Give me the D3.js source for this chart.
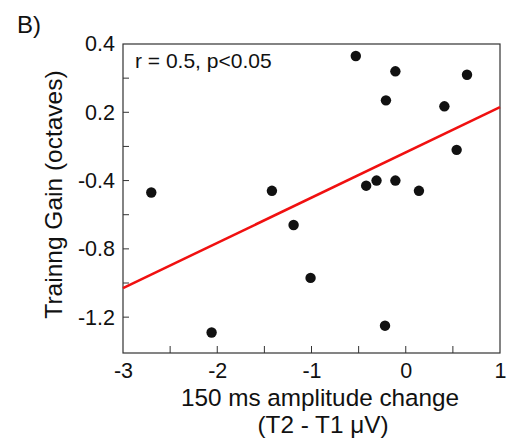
<!DOCTYPE html>
<html><head><meta charset="utf-8">
<script src="https://cdn.jsdelivr.net/npm/d3@7"></script>
<style>body{margin:0;background:#fff}svg{display:block}text{font-family:"Liberation Sans",Arial,sans-serif;fill:#111}</style>
</head><body>
<svg id="c" width="520" height="445"></svg>
<script>
const ampChange = [-0.53,-0.11,0.65,-0.21,0.41,0.54,-2.70,-1.42,-0.42,-0.31,-0.11,0.14,-1.19,-1.01,-2.06,-0.22];
const trainGain = [0.33,0.24,0.22,0.07,0.035,-0.22,-0.47,-0.46,-0.43,-0.40,-0.40,-0.46,-0.66,-0.97,-1.29,-1.25];
const fitX = [-3, 1];
const fitY = [-1.03, 0.03];
const xTickValues = [-3,-2,-1,0,1];
const xTickLabels = ["-3","-2","-1","0","1"];
const xMinorTicks = [-2.5,-2,-1.5,-1,-0.5,0,0.5];
const yTickValues = [0.4,0,-0.4,-0.8,-1.2];
const yTickLabels = ["0.4","0.2","-0.4","-0.8","-1.2"];
const yMinorTicks = [0.2,0,-0.2,-0.4,-0.6,-0.8,-1.0,-1.2];

const svg = d3.select("#c");
const L=123,R=500,T=44,B=353;
const x = d3.scaleLinear().domain([-3,1]).range([L,R]);
const y = d3.scaleLinear().domain([-1.41,0.4]).range([B,T]);

// frame
svg.append("rect").attr("x",L).attr("y",T).attr("width",R-L).attr("height",B-T)
  .attr("fill","none").attr("stroke","#333").attr("stroke-width",1.2);

// x axis
const xa = svg.append("g").attr("transform",`translate(0,${B})`)
  .call(d3.axisBottom(x).tickValues(xTickValues).tickFormat((d,i)=>xTickLabels[i]).tickSize(0).tickPadding(10));
xa.select(".domain").remove();
xa.selectAll("text").attr("font-size",21.5).style("font-family","Liberation Sans, Arial, sans-serif").attr("fill","#111");
svg.append("g").selectAll("line").data(xMinorTicks).join("line")
  .attr("x1",d=>x(d)).attr("x2",d=>x(d)).attr("y1",B).attr("y2",B-7).attr("stroke","#333");

// y axis
const ya = svg.append("g").attr("transform",`translate(${L},0)`)
  .call(d3.axisLeft(y).tickValues(yTickValues).tickFormat((d,i)=>yTickLabels[i]).tickSize(0).tickPadding(8));
ya.select(".domain").remove();
ya.selectAll("text").attr("font-size",21.5).style("font-family","Liberation Sans, Arial, sans-serif").attr("fill","#111");
svg.append("g").selectAll("line").data(yMinorTicks).join("line")
  .attr("x1",L).attr("x2",L+6).attr("y1",d=>y(d)).attr("y2",d=>y(d)).attr("stroke","#333");

// fit line
svg.append("line").attr("x1",x(fitX[0])).attr("y1",y(fitY[0])).attr("x2",x(fitX[1])).attr("y2",y(fitY[1]))
  .attr("stroke","#f01010").attr("stroke-width",2.5);

// points
svg.append("g").selectAll("circle").data(ampChange).join("circle")
  .attr("cx",d=>x(d)).attr("cy",(d,i)=>y(trainGain[i])).attr("r",5.2).attr("fill","#111");

// texts
svg.append("text").attr("x",17).attr("y",33).attr("font-size",24).text("B)");
svg.append("text").attr("x",135).attr("y",68).attr("font-size",21).text("r = 0.5, p<0.05");
svg.append("text").attr("x",320).attr("y",406).attr("text-anchor","middle").attr("font-size",24.3).text("150 ms amplitude change");
svg.append("text").attr("x",323).attr("y",433).attr("text-anchor","middle").attr("font-size",24.3).text("(T2 - T1 μV)");
svg.append("text").attr("transform","translate(62,194.5) rotate(-90)").attr("text-anchor","middle").attr("font-size",24.5).text("Trainng Gain (octaves)");
</script>
</body></html>
